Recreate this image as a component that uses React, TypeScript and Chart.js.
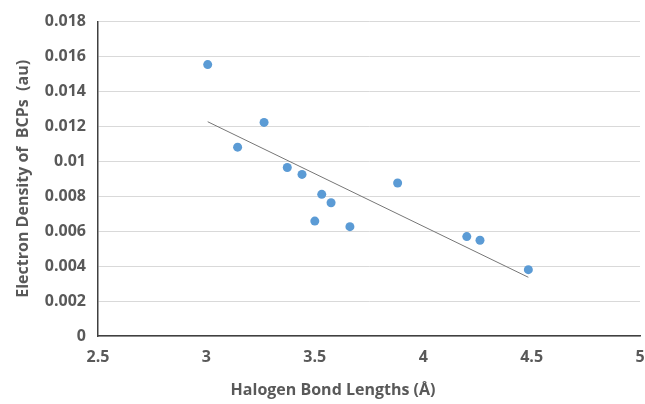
import React, { useEffect, useRef } from "react";
import { Chart, registerables } from "chart.js";

Chart.register(...registerables);

const bondLengths = [3.006, 3.144, 3.266, 3.373, 3.441, 3.532, 3.575, 3.5, 3.662, 3.882, 4.201, 4.262, 4.485];
const electronDensity = [0.01554, 0.01081, 0.01223, 0.00965, 0.00925, 0.00811, 0.00763, 0.00658, 0.00626, 0.00876, 0.00569, 0.00548, 0.0038];
const xTicks = [2.5, 3, 3.5, 4, 4.5, 5];
const yTicks = [0, 0.002, 0.004, 0.006, 0.008, 0.01, 0.012, 0.014, 0.016, 0.018];

const xTitle = "Halogen Bond Lengths (Å)";
const yTitle = "Electron Density of  BCPs  (au)";

function regression(xs: number[], ys: number[]) {
  const n = xs.length;
  const mx = xs.reduce((a, b) => a + b, 0) / n;
  const my = ys.reduce((a, b) => a + b, 0) / n;
  let sxy = 0, sxx = 0;
  for (let i = 0; i < n; i++) {
    sxy += (xs[i] - mx) * (ys[i] - my);
    sxx += (xs[i] - mx) * (xs[i] - mx);
  }
  const slope = sxy / sxx;
  return { slope, intercept: my - slope * mx };
}

const fmt = (v: number) => String(Number(Number(v).toFixed(4)));

const FONT_FAMILY = "'Open Sans', 'Liberation Sans', sans-serif";
const TEXT_COLOR = "#595959";

// Draws the x-axis title centred slightly left of the plot centre, as in the reference.
const xTitlePlugin = {
  id: "xTitleOffset",
  afterDraw(chart: any) {
    const { ctx, chartArea } = chart;
    ctx.save();
    ctx.font = `bold 16px ${FONT_FAMILY}`;
    ctx.fillStyle = TEXT_COLOR;
    ctx.textAlign = "center";
    ctx.textBaseline = "middle";
    const cx = (chartArea.left + chartArea.right) / 2 - 36;
    ctx.fillText(xTitle, cx, chartArea.bottom + 54);
    ctx.restore();
  },
};

export default function App() {
  const ref = useRef<HTMLCanvasElement | null>(null);

  useEffect(() => {
    document.body.style.margin = "0";
    const ctx = ref.current!;
    const { slope, intercept } = regression(bondLengths, electronDensity);
    const xMin = Math.min(...bondLengths);
    const xMax = Math.max(...bondLengths);
    const font = { family: FONT_FAMILY, size: 16, weight: "bold" as const };

    const chart = new Chart(ctx, {
      type: "scatter",
      data: {
        datasets: [
          {
            label: "Electron density",
            data: bondLengths.map((x, i) => ({ x, y: electronDensity[i] })),
            backgroundColor: "#5b9bd5",
            borderColor: "#5b9bd5",
            pointRadius: 4.5,
            pointBorderWidth: 0,
          },
          {
            label: "Trendline",
            data: [
              { x: xMin, y: slope * xMin + intercept },
              { x: xMax, y: slope * xMax + intercept },
            ],
            showLine: true,
            borderColor: "#767676",
            borderWidth: 1,
            pointRadius: 0,
            backgroundColor: "#767676",
          },
        ],
      },
      plugins: [xTitlePlugin],
      options: {
        responsive: false,
        animation: false,
        layout: { padding: { top: 20, right: 5, left: 0, bottom: 0 } },
        plugins: { legend: { display: false }, tooltip: { enabled: false } },
        scales: {
          x: {
            type: "linear",
            min: 2.5,
            max: 5,
            afterBuildTicks: (s: any) => {
              s.ticks = xTicks.map((v) => ({ value: v }));
            },
            afterFit: (s: any) => {
              s.height = 68;
              s.paddingRight = 0;
              s.paddingLeft = 0;
            },
            grid: { display: false, drawTicks: false },
            border: { display: true, color: "#404040", width: 1.5 },
            ticks: { color: TEXT_COLOR, font, padding: 12, callback: (v: any) => fmt(v), maxRotation: 0 },
            title: { display: false },
          },
          y: {
            type: "linear",
            min: 0,
            max: 0.018,
            afterBuildTicks: (s: any) => {
              s.ticks = yTicks.map((v) => ({ value: v }));
            },
            afterFit: (s: any) => {
              s.width = 98;
            },
            grid: { color: "#d9d9d9", lineWidth: 1, drawTicks: false },
            border: { display: true, color: "#404040", width: 1.5 },
            ticks: { color: TEXT_COLOR, font, padding: 12, callback: (v: any) => fmt(v) },
            title: { display: true, text: yTitle, color: TEXT_COLOR, font, padding: { top: 14, bottom: 4 } },
          },
        },
      },
    });
    return () => chart.destroy();
  }, []);

  return (
    <div style={{ width: 645, height: 404, background: "#fff" }}>
      <canvas ref={ref} width={645} height={404} style={{ display: "block" }} />
    </div>
  );
}
